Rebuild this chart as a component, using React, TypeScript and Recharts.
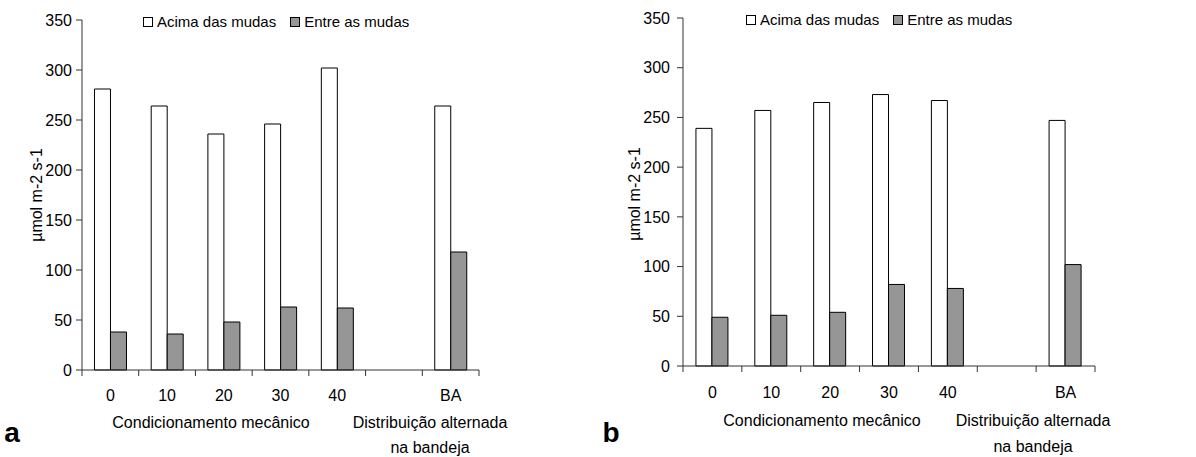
import React from "react";
import { Bar, BarChart, Legend, XAxis, YAxis } from "recharts";

// valores (µmol m-2 s-1)
const categories = ["0", "10", "20", "30", "40", "", "BA"];
const acimaA = [281, 264, 236, 246, 302, null, 264];
const entreA = [38, 36, 48, 63, 62, null, 118];
const acimaB = [239, 257, 265, 273, 267, null, 247];
const entreB = [49, 51, 54, 82, 78, null, 102];
const yTicks = [0, 50, 100, 150, 200, 250, 300, 350];
const seriesNames = ["Acima das mudas", "Entre as mudas"];
const yLabel = "µmol m-2 s-1";
const groupLabel = "Condicionamento mecânico";
const altLabel = ["Distribuição alternada", "na bandeja"];

const FONT = "Arial, 'Liberation Sans', sans-serif";
const AXIS = "#333";
const GRAY = "#969696";
const FS = 16;

type Panel = {
  letter: string;
  acima: (number | null)[];
  entre: (number | null)[];
  left: number;
  width: number;
  margin: { top: number; right: number; bottom: number; left: number };
  tickDy: number;
  yTickMargin: number;
  legendLeft: number;
  yLabelPos: [number, number];
  groupPos: [number, number];
  altPos: [number, number, number];
  letterPos: [number, number];
};

const panels: Panel[] = [
  {
    letter: "a",
    acima: acimaA,
    entre: entreA,
    left: 0,
    width: 600,
    margin: { top: 20, right: 121, bottom: 57, left: 42 },
    tickDy: 31,
    yTickMargin: 4,
    legendLeft: 143,
    yLabelPos: [37, 195],
    groupPos: [211, 423],
    altPos: [430, 423, 448],
    letterPos: [12, 433],
  },
  {
    letter: "b",
    acima: acimaB,
    entre: entreB,
    left: 598,
    width: 598,
    margin: { top: 18, right: 101, bottom: 61, left: 45 },
    tickDy: 32,
    yTickMargin: 7,
    legendLeft: 148,
    yLabelPos: [635, 194],
    groupPos: [822, 421],
    altPos: [1033, 421, 447],
    letterPos: [611, 433],
  },
];

function CategoryTick(props: any) {
  const { x, y, payload, index, dy } = props;
  const half = payload?.offset || 28;
  const last = index === categories.length - 1;
  return (
    <g>
      <line x1={x - half} y1={y} x2={x - half} y2={y + 6} stroke={AXIS} />
      {last && <line x1={x + half} y1={y} x2={x + half} y2={y + 6} stroke={AXIS} />}
      <text x={x} y={y + dy} textAnchor="middle" fontSize={FS} fill="#000" fontFamily={FONT}>
        {payload.value}
      </text>
    </g>
  );
}

function LegendContent(props: any) {
  const items = props.payload || [];
  return (
    <div style={{ display: "flex", alignItems: "center", fontSize: 15, lineHeight: "17px", fontFamily: FONT, whiteSpace: "nowrap", color: "#000" }}>
      {items.map((item: any) => (
        <span key={item.value} style={{ display: "flex", alignItems: "center", marginRight: 14 }}>
          <span
            style={{
              display: "inline-block",
              width: 8,
              height: 8,
              border: "1px solid #000",
              background: item.payload?.fill || item.color,
              marginRight: 4,
            }}
          />
          {item.value}
        </span>
      ))}
    </div>
  );
}

const abs = (x: number, y: number, extra: React.CSSProperties = {}): React.CSSProperties => ({
  position: "absolute",
  left: x,
  top: y,
  transform: "translate(-50%, -50%)",
  whiteSpace: "nowrap",
  fontFamily: FONT,
  fontSize: FS,
  color: "#000",
  ...extra,
});

function ChartPanel({ p }: { p: Panel }) {
  const data = categories.map((name, i) => ({
    name,
    acima: p.acima[i],
    entre: p.entre[i],
  }));

  return (
    <div style={{ position: "absolute", left: p.left, top: 0 }}>
      <BarChart
        width={p.width}
        height={457}
        data={data}
        margin={p.margin}
        barCategoryGap="22%"
        barGap={0}
      >
        <XAxis
          dataKey="name"
          height={30}
          interval={0}
          tickSize={0}
          tickMargin={0}
          tickLine={false}
          axisLine={{ stroke: AXIS }}
          tick={<CategoryTick dy={p.tickDy} />}
        />
        <YAxis
          width={40}
          domain={[0, 350]}
          ticks={yTicks}
          interval={0}
          tickSize={6}
          tickMargin={p.yTickMargin}
          axisLine={{ stroke: AXIS }}
          tickLine={{ stroke: AXIS }}
          tick={{ fill: "#000", fontSize: FS, fontFamily: FONT }}
        />
        <Legend
          layout="vertical"
          align="center"
          verticalAlign="middle"
          content={<LegendContent />}
          wrapperStyle={{ top: p.margin.top - 7, left: p.legendLeft, width: "auto" }}
        />
        <Bar
          dataKey="acima"
          name={seriesNames[0]}
          fill="#ffffff"
          stroke="#000"
          strokeWidth={1}
          isAnimationActive={false}
        />
        <Bar
          dataKey="entre"
          name={seriesNames[1]}
          fill={GRAY}
          stroke="#000"
          strokeWidth={1}
          isAnimationActive={false}
        />
      </BarChart>
    </div>
  );
}

export default function App() {
  return (
    <div style={{ position: "absolute", left: 0, top: 0, width: 1196, height: 457, background: "#fff", overflow: "hidden" }}>
      {panels.map((p) => (
        <ChartPanel key={p.letter} p={p} />
      ))}
      {panels.map((p) => (
        <React.Fragment key={"t" + p.letter}>
          <div style={abs(p.yLabelPos[0], p.yLabelPos[1], { transform: "translate(-50%, -50%) rotate(-90deg)" })}>
            {yLabel}
          </div>
          <div style={abs(p.groupPos[0], p.groupPos[1])}>{groupLabel}</div>
          <div style={abs(p.altPos[0], p.altPos[1])}>{altLabel[0]}</div>
          <div style={abs(p.altPos[0], p.altPos[2])}>{altLabel[1]}</div>
          <div style={abs(p.letterPos[0], p.letterPos[1], { fontSize: 28, fontWeight: "bold" })}>{p.letter}</div>
        </React.Fragment>
      ))}
    </div>
  );
}
